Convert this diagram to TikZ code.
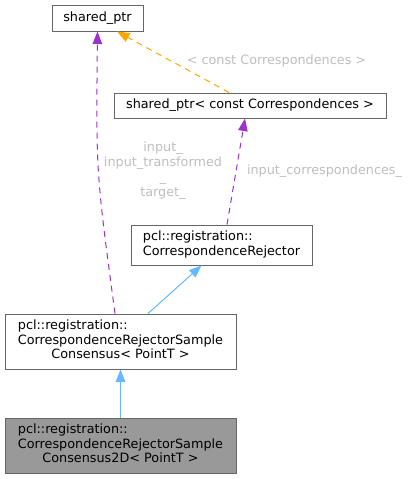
\documentclass[tikz,border=0pt]{standalone}
\usepackage{xcolor}
\usepackage{fontspec}
\setmainfont{DejaVu Sans}
\usetikzlibrary{arrows.meta}
\definecolor{violetlien}{HTML}{9A32CD}
\definecolor{orangelien}{HTML}{FFA500}
\definecolor{bleulien}{HTML}{63B8FF}
\definecolor{grisbord}{HTML}{666666}
\definecolor{grisfond}{HTML}{999999}
\definecolor{grisetiquette}{HTML}{BEBEBE}

\begin{document}
\begin{tikzpicture}[x=1pt,y=-1pt]
% Styles (MODIFIABLES)
\tikzstyle{classe}=[draw=grisbord,line width=1pt,fill=white,inner sep=0pt,font=\fontsize{12.8}{14.5}\selectfont]
\tikzstyle{courante}=[classe,fill=grisfond]
\tikzstyle{pointe}=[-{Triangle[length=12.5pt,width=9.5pt]},line width=1pt]
\tikzstyle{heritage}=[pointe,bleulien]
\tikzstyle{usage}=[pointe,violetlien,dash pattern=on 6pt off 5pt]
\tikzstyle{gabarit}=[pointe,orangelien,dash pattern=on 6pt off 5pt]
\tikzstyle{etiquette}=[grisetiquette,inner sep=0pt,align=center,font=\fontsize{12.8}{15}\selectfont]
% Cadre
\useasboundingbox (0,0) rectangle (409,479);
% Noeuds (MODIFIABLES)
\node[classe,minimum width=91pt,minimum height=26pt] (SP) at (97.5,18) {shared\_ptr};
\node[classe,minimum width=272pt,minimum height=25pt] (SPC) at (250,105.5) {shared\_ptr< const Correspondences >};
\node[classe,minimum width=181pt,minimum height=40pt] (CR) at (221.5,245) {\begin{tabular}{@{}l@{}}pcl::registration::\\CorrespondenceRejector\end{tabular}};
\node[classe,minimum width=231pt,minimum height=55pt] (CRSC) at (120.5,341.5) {\begin{tabular}{@{}l@{}}pcl::registration::\\CorrespondenceRejectorSample\\\multicolumn{1}{@{}c@{}}{Consensus< PointT >}\end{tabular}};
\node[courante,minimum width=231pt,minimum height=55pt] (CRSC2D) at (120.5,445.5) {\begin{tabular}{@{}l@{}}pcl::registration::\\CorrespondenceRejectorSample\\\multicolumn{1}{@{}c@{}}{Consensus2D< PointT >}\end{tabular}};
% Arcs (MODIFIABLES : Styles)
\draw[heritage] (CRSC2D) -- (CRSC);
\draw[heritage] ([xshift=27.5pt]CRSC.north) -- ([xshift=-20pt]CR.south);
\draw[usage] ([xshift=-5.5pt]CRSC.north) .. controls (96,172) .. (SP.south);
\draw[usage] ([xshift=5.5pt]CR.north) -- ([xshift=-5pt]SPC.south);
\draw[gabarit] ([xshift=-21pt]SPC.north) -- ([xshift=19.5pt]SP.south);
% Etiquettes
\node[etiquette] (eSP) at (163,170.5) {input\_\\input\_transformed\\\_\\target\_};
\node[etiquette] (eSPC) at (324.5,171) {input\_correspondences\_};
\node[etiquette] (eGab) at (276.5,61) {< const Correspondences >};
\end{tikzpicture}
\end{document}
